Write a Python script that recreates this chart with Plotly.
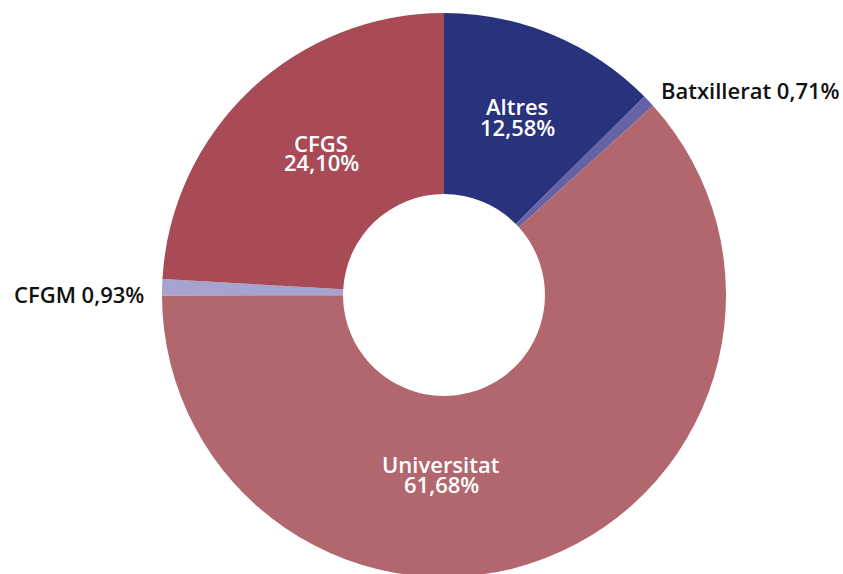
import plotly.graph_objects as go

categories = ["Altres", "Batxillerat", "Universitat", "CFGM", "CFGS"]
values = [12.58, 0.71, 61.68, 0.93, 24.10]
value_labels = ["12,58%", "0,71%", "61,68%", "0,93%", "24,10%"]
colors = ["#29327d", "#6662a6", "#b2676e", "#a6a3cf", "#a84b56"]
inside = [True, False, True, False, True]

W, H = 843, 590
CX, CY, R = 444, 295, 282  # donut centre / outer radius in page pixels

fig = go.Figure(go.Pie(
    labels=categories,
    values=values,
    textinfo="none",
    marker=dict(colors=colors, line=dict(width=0)),
    hole=0.358,
    sort=False,
    direction="clockwise",
    rotation=0,
    showlegend=False,
    domain=dict(x=[(CX - R) / W, (CX + R) / W],
                y=[1 - (CY + R) / H, 1 - (CY - R) / H]),
    hoverinfo="label+percent",
))

# label placement (pixel positions in the page, per category)
label_pos = {
    "Altres": (517, 105, 126),
    "CFGS": (321, 141, 161),
    "Universitat": (441, 462, 482),
    "Batxillerat": (659, 89),
    "CFGM": (12, 292),
}

font_in = dict(color="white", size=22, family="Open Sans", weight=600)
font_out = dict(color="#111111", size=22, family="Open Sans", weight=600)

def ann(text, x, y, font, xanchor="center"):
    fig.add_annotation(
        text=text, x=x / W, y=1 - (y + 1.5) / H, xref="paper", yref="paper",
        xanchor=xanchor, yanchor="middle", showarrow=False, font=font,
    )

for c, v, ins in zip(categories, value_labels, inside):
    p = label_pos[c]
    if ins:
        ann(c, p[0], p[1], font_in)
        ann(v, p[0], p[2], font_in)
    else:
        ann(f"{c} {v}", p[0], p[1], font_out, xanchor="left")

fig.update_layout(
    width=W, height=H,
    margin=dict(l=0, r=0, t=0, b=0),
    paper_bgcolor="white",
)
fig.write_html(
    "out.html",
    config={"displayModeBar": False},
    post_script="document.body.style.margin='0';document.body.style.overflow='hidden';",
)
